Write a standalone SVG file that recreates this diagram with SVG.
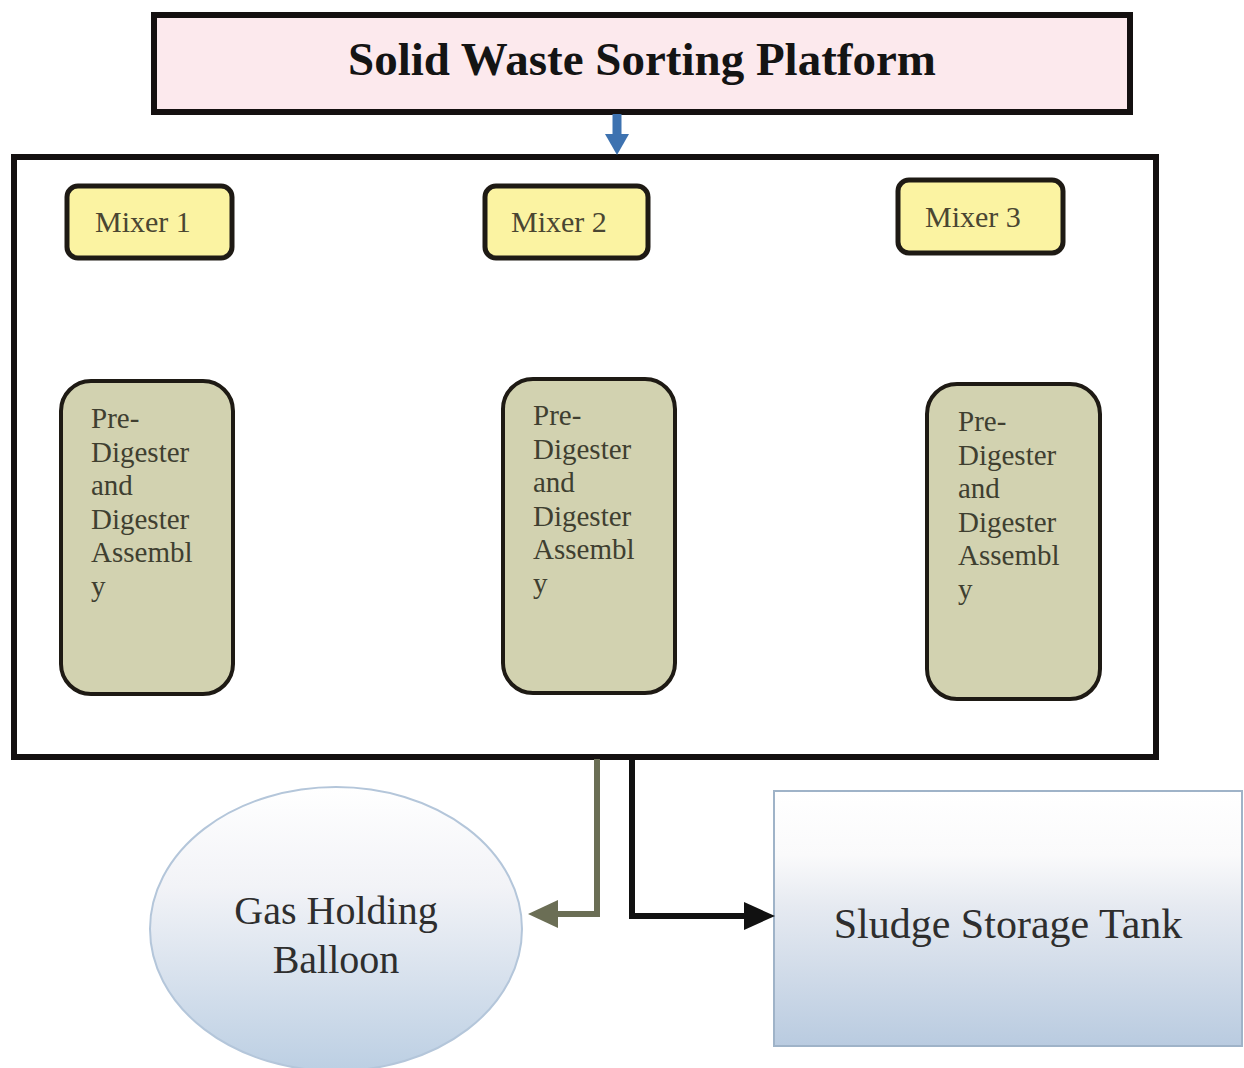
<svg xmlns="http://www.w3.org/2000/svg" width="1244" height="1068" viewBox="0 0 1244 1068">
<style>
.serif{font-family:"Liberation Serif","Times New Roman",serif}
.mixer rect{fill:#fbf3a2;stroke:#1e1a14;stroke-width:5}
.mixer text{font-size:30px;fill:#4a4632}
.dig rect{fill:#d2d2b0;stroke:#1e1a14;stroke-width:4}
.dig text{font-size:29px;fill:#3f3f30}
</style>
<defs>
<linearGradient id="gb" x1="0" y1="0" x2="0" y2="1">
<stop offset="0" stop-color="#ffffff"/>
<stop offset="0.35" stop-color="#f2f3f7"/>
<stop offset="1" stop-color="#bccfe3"/>
</linearGradient>
<linearGradient id="gs" x1="0" y1="0" x2="0" y2="1">
<stop offset="0" stop-color="#ffffff"/>
<stop offset="0.25" stop-color="#fafafb"/>
<stop offset="0.45" stop-color="#e6eaf1"/>
<stop offset="1" stop-color="#b9cbe0"/>
</linearGradient>
</defs>
<rect width="1244" height="1068" fill="#ffffff"/>

<g id="sorting-platform">
<rect x="154" y="15" width="976" height="97" fill="#fce9ed" stroke="#141010" stroke-width="6"/>
<text class="serif" x="642" y="75" text-anchor="middle" font-size="47" font-weight="bold" fill="#141414">Solid Waste Sorting Platform</text>
</g>

<g id="container">
<rect x="14" y="157" width="1142" height="600" fill="#ffffff" stroke="#141010" stroke-width="6"/>
</g>

<g id="mixer1" class="mixer serif">
<rect x="67" y="186" width="165" height="72" rx="11"/>
<text x="95" y="232">Mixer 1</text>
</g>
<g id="mixer2" class="mixer serif">
<rect x="485" y="186" width="163" height="72" rx="11"/>
<text x="511" y="232">Mixer 2</text>
</g>
<g id="mixer3" class="mixer serif">
<rect x="898" y="180" width="165" height="73" rx="11"/>
<text x="925" y="227">Mixer 3</text>
</g>

<g id="digester1" class="dig serif">
<rect x="61" y="381" width="172" height="313" rx="30"/>
<text x="91" y="428">Pre-</text>
<text x="91" y="461.5">Digester</text>
<text x="91" y="495">and</text>
<text x="91" y="528.5">Digester</text>
<text x="91" y="562">Assembl</text>
<text x="91" y="595.5">y</text>
</g>
<g id="digester2" class="dig serif">
<rect x="503" y="379" width="172" height="314" rx="30"/>
<text x="533" y="425">Pre-</text>
<text x="533" y="458.5">Digester</text>
<text x="533" y="492">and</text>
<text x="533" y="525.5">Digester</text>
<text x="533" y="559">Assembl</text>
<text x="533" y="592.5">y</text>
</g>
<g id="digester3" class="dig serif">
<rect x="927" y="384" width="173" height="315" rx="30"/>
<text x="958" y="431">Pre-</text>
<text x="958" y="464.5">Digester</text>
<text x="958" y="498">and</text>
<text x="958" y="531.5">Digester</text>
<text x="958" y="565">Assembl</text>
<text x="958" y="598.5">y</text>
</g>

<g id="gas-balloon">
<ellipse cx="336" cy="929" rx="186" ry="142" fill="url(#gb)" stroke="#b4c6da" stroke-width="2"/>
<text class="serif" x="336" y="924" text-anchor="middle" font-size="40" fill="#2e2e2e">Gas Holding</text>
<text class="serif" x="336" y="973" text-anchor="middle" font-size="40" fill="#2e2e2e">Balloon</text>
</g>

<g id="sludge-tank">
<rect x="774" y="791" width="468" height="255" fill="url(#gs)" stroke="#9fb3c8" stroke-width="2"/>
<text class="serif" x="1008" y="938" text-anchor="middle" font-size="42" fill="#2e2e2e">Sludge Storage Tank</text>
</g>

<g id="connectors">
<line x1="617" y1="114" x2="617" y2="136" stroke="#3d72b0" stroke-width="9"/>
<polygon points="605,134 629,134 617,155" fill="#3d72b0"/>
<polyline points="597,759 597,914 555,914" fill="none" stroke="#6b6e55" stroke-width="6"/>
<polygon points="558,900 558,928 528,914" fill="#6b6e55"/>
<polyline points="632,759 632,916 746,916" fill="none" stroke="#111111" stroke-width="6"/>
<polygon points="744,902 744,930 775,916" fill="#111111"/>
</g>
</svg>
